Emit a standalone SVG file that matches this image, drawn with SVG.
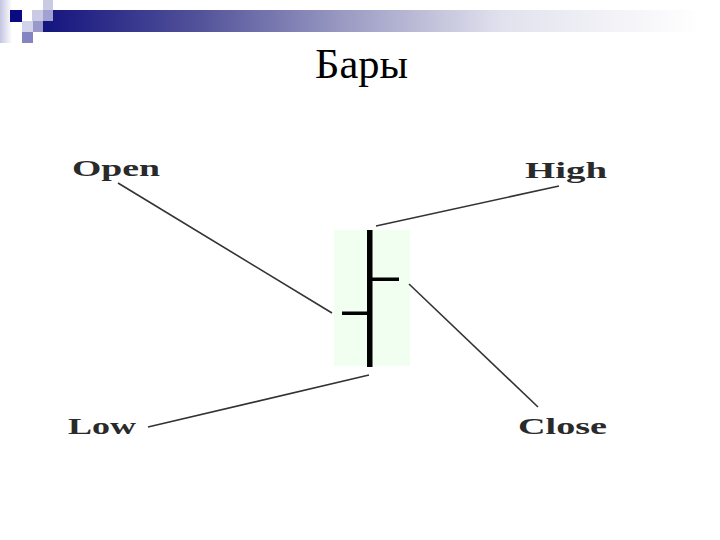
<svg xmlns="http://www.w3.org/2000/svg" width="720" height="540" viewBox="0 0 720 540">
  <defs>
    <linearGradient id="bar" x1="43" y1="0" x2="720" y2="0" gradientUnits="userSpaceOnUse">
      <stop offset="0" stop-color="#14147f"/>
      <stop offset="0.23" stop-color="#52529a"/>
      <stop offset="0.45" stop-color="#9c9cc4"/>
      <stop offset="0.68" stop-color="#e2e2ee"/>
      <stop offset="0.97" stop-color="#ffffff"/>
    </linearGradient>
    <linearGradient id="col" x1="0" y1="0" x2="12" y2="0" gradientUnits="userSpaceOnUse">
      <stop offset="0" stop-color="#c4c4e2"/>
      <stop offset="1" stop-color="#ffffff"/>
    </linearGradient>
    <style>
      .lbl { font-family: "Liberation Serif", "DejaVu Serif", serif; font-size: 24px; font-weight: bold; fill: #2a2a2a; }
      .title { font-family: "Liberation Serif", "Times New Roman", serif; font-size: 42px; fill: #000; }
      .conn { stroke: #333; stroke-width: 1.6; fill: none; }
    </style>
  </defs>
  <rect width="720" height="540" fill="#ffffff"/>
  <g id="header">
    <rect x="0" y="0" width="12" height="43" fill="url(#col)"/>
    <rect x="43" y="10" width="677" height="22" fill="url(#bar)"/>
    <rect x="10" y="10" width="12" height="12" fill="#0a0a82"/>
    <rect x="32" y="10" width="11" height="11" fill="#cacae6"/>
    <rect x="43" y="0" width="10" height="10" fill="#cacae2"/>
    <rect x="43" y="10" width="10" height="11" fill="#a2a2d2"/>
    <rect x="22" y="21" width="11" height="11" fill="#d2d2ec"/>
    <rect x="33" y="21" width="10" height="11" fill="#9a9aca"/>
    <rect x="22" y="32" width="11" height="11" fill="#8484c2"/>
  </g>
  <text class="title" x="315" y="78" textLength="93" lengthAdjust="spacingAndGlyphs">Бары</text>
  <g id="bar-node">
    <rect x="334" y="230" width="76" height="136" fill="#f0fff0"/>
    <rect x="367" y="230" width="5.5" height="137" fill="#000"/>
    <rect x="372" y="277.5" width="27" height="3.5" fill="#000"/>
    <rect x="342" y="311.5" width="27" height="3.5" fill="#000"/>
  </g>
  <g id="open"><text class="lbl" x="72" y="176" textLength="88" lengthAdjust="spacingAndGlyphs">Open</text></g>
  <g id="high"><text class="lbl" x="525" y="178" textLength="82" lengthAdjust="spacingAndGlyphs">High</text></g>
  <g id="low"><text class="lbl" x="68" y="434" textLength="68" lengthAdjust="spacingAndGlyphs">Low</text></g>
  <g id="close"><text class="lbl" x="518" y="434" textLength="89" lengthAdjust="spacingAndGlyphs">Close</text></g>
  <g id="connectors">
    <line class="conn" x1="118" y1="183" x2="332" y2="313"/>
    <line class="conn" x1="376" y1="226" x2="559" y2="186"/>
    <line class="conn" x1="148" y1="427" x2="369" y2="375"/>
    <line class="conn" x1="409" y1="284" x2="538" y2="407"/>
  </g>
</svg>
